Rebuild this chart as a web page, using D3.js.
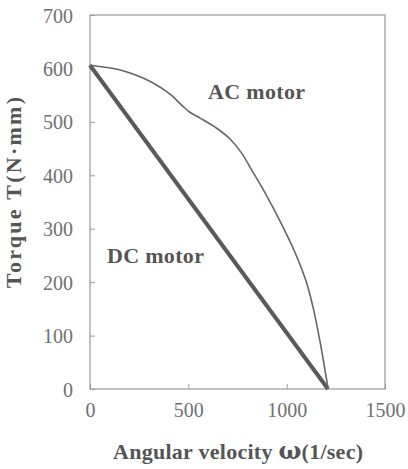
<!DOCTYPE html>
<html>
<head>
<meta charset="utf-8">
<script src="https://cdn.jsdelivr.net/npm/d3@7"></script>
<style>
  body { margin: 0; background: #fff; }
  svg text { font-family: "Liberation Serif", serif; }
</style>
</head>
<body>
<svg id="chart"></svg>
<script>
const svg_width = 408;
const svg_height = 469;

var margin = { top: 15, right: 23, bottom: 80, left: 90 };

var width = svg_width - margin.left - margin.right;
var height = svg_height - margin.top - margin.bottom;

// data
var x_ticks = [0, 500, 1000, 1500];
var y_ticks = [0, 100, 200, 300, 400, 500, 600, 700];

var dc_omega = [0, 1210];
var dc_torque = [606, 0];

var ac_omega = [0, 144, 229, 314, 407, 470, 508, 560, 644, 712, 770, 830, 898, 983, 1051, 1102, 1136, 1169, 1195, 1211];
var ac_torque = [606, 598, 588, 574, 552, 530, 518, 507, 488, 468, 442, 405, 362, 302, 248, 198, 150, 90, 35, 0];

var svg = d3.select("svg#chart")
    .attr("width", svg_width)
    .attr("height", svg_height);

var g = svg.append("g")
    .attr("transform", translate(margin.left, margin.top));

var x = d3.scaleLinear().domain([0, 1500]).range([0, width]);
var y = d3.scaleLinear().domain([0, 700]).range([height, 0]);

// frame
g.append("rect")
    .attr("x", 0)
    .attr("y", 0)
    .attr("width", width)
    .attr("height", height)
    .style("fill", "none")
    .style("stroke", "#9a9a9a")
    .style("stroke-width", 1.2);

// axes with inward ticks
var xAxis = d3.axisBottom(x).tickValues(x_ticks).tickFormat(d3.format("d"))
    .tickSizeInner(-5).tickSizeOuter(0).tickPadding(14);
var yAxis = d3.axisLeft(y).tickValues(y_ticks).tickFormat(d3.format("d"))
    .tickSizeInner(-5).tickSizeOuter(0).tickPadding(17);

var xg = g.append("g")
    .attr("transform", translate(0, height))
    .call(xAxis);
var yg = g.append("g").call(yAxis);

[xg, yg].forEach(a => {
  a.attr("font-family", null).attr("font-size", null);
  a.select(".domain").remove();
  a.selectAll(".tick line").style("stroke", "#9a9a9a");
  a.selectAll(".tick text")
    .style("font-size", "20px")
    .style("fill", "#707070");
});
xg.selectAll(".tick text").attr("dy", "0.71em");
yg.selectAll(".tick text").attr("dy", "0.35em");

// lines
var line = d3.line()
    .x(d => x(d[0]))
    .y(d => y(d[1]));

g.append("path")
    .datum(d3.zip(dc_omega, dc_torque))
    .attr("d", line)
    .style("fill", "none")
    .style("stroke", "#5a5a5a")
    .style("stroke-width", 4);

g.append("path")
    .datum(d3.zip(ac_omega, ac_torque))
    .attr("d", line.curve(d3.curveCatmullRom.alpha(0.5)))
    .style("fill", "none")
    .style("stroke", "#666")
    .style("stroke-width", 1.6);

// labels
function bold(sel) {
  return sel.style("font-size", "22px")
    .style("font-weight", "bold")
    .style("fill", "#555");
}

g.append("text")
    .attr("x", x(600))
    .attr("y", y(542))
    .call(bold)
    .attr("textLength", 97)
    .text("AC motor");

g.append("text")
    .attr("x", x(86))
    .attr("y", y(235))
    .call(bold)
    .attr("textLength", 97)
    .text("DC motor");

// axis titles
var xt = svg.append("text")
    .attr("x", 113)
    .attr("y", 459)
    .attr("textLength", 250)
    .attr("lengthAdjust", "spacing")
    .call(bold);
xt.append("tspan").text("Angular velocity ");
xt.append("tspan")
    .style("font-family", "'DejaVu Serif', serif")
    .style("font-size", "24px")
    .text("\u03c9");
xt.append("tspan").text("(1/sec)");

svg.append("text")
    .attr("transform", "translate(21,288) rotate(-90)")
    .attr("textLength", 191)
    .attr("lengthAdjust", "spacing")
    .call(bold)
    .text("Torque T(N\u00b7mm)");

function translate(x, y) {
  return 'translate(' + String(x) + ',' + String(y) + ')';
}
</script>
</body>
</html>
